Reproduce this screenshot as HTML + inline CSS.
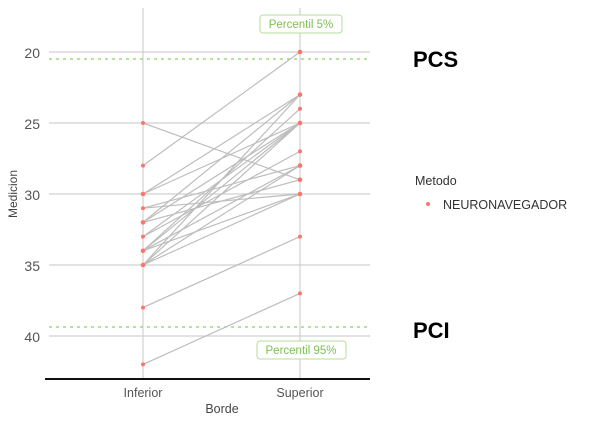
<!DOCTYPE html><html><head><style>body{margin:0;background:#fff}svg{display:block}</style></head><body>
<svg width="600" height="425" xmlns="http://www.w3.org/2000/svg" font-family="Liberation Sans, sans-serif">
<g stroke="#d0d0d0" stroke-width="1.2">
<line x1="49" x2="370" y1="52" y2="52"/><line x1="49" x2="370" y1="123" y2="123"/><line x1="49" x2="370" y1="194" y2="194"/><line x1="49" x2="370" y1="265" y2="265"/><line x1="49" x2="370" y1="336" y2="336"/>
<line x1="143" x2="143" y1="8" y2="378"/><line x1="300" x2="300" y1="8" y2="378"/>
</g>
<g stroke="#8fd06a" stroke-width="1.3" stroke-dasharray="3,4"><line x1="49" x2="370" y1="59" y2="59"/><line x1="49" x2="370" y1="327" y2="327"/></g>
<g stroke="#bdbdbd" stroke-width="1.2">
<line x1="143" x2="300" y1="123" y2="179.8"/>
<line x1="143" x2="300" y1="165.6" y2="52"/>
<line x1="143" x2="300" y1="194" y2="94.6"/>
<line x1="143" x2="300" y1="194" y2="123"/>
<line x1="143" x2="300" y1="208.2" y2="165.6"/>
<line x1="143" x2="300" y1="222.4" y2="123"/>
<line x1="143" x2="300" y1="222.4" y2="94.6"/>
<line x1="143" x2="300" y1="222.4" y2="179.8"/>
<line x1="143" x2="300" y1="236.6" y2="123"/>
<line x1="143" x2="300" y1="236.6" y2="151.4"/>
<line x1="143" x2="300" y1="250.8" y2="108.8"/>
<line x1="143" x2="300" y1="250.8" y2="165.6"/>
<line x1="143" x2="300" y1="250.8" y2="123"/>
<line x1="143" x2="300" y1="265" y2="194"/>
<line x1="143" x2="300" y1="265" y2="165.6"/>
<line x1="143" x2="300" y1="265" y2="123"/>
<line x1="143" x2="300" y1="265" y2="94.6"/>
<line x1="143" x2="300" y1="307.6" y2="236.6"/>
<line x1="143" x2="300" y1="364.4" y2="293.4"/>
<line x1="143" x2="300" y1="208.2" y2="194"/>
<line x1="143" x2="300" y1="250.8" y2="194"/>
</g>
<g fill="#f8766d">
<circle cx="143" cy="123" r="2"/><circle cx="143" cy="165.6" r="2"/><circle cx="143" cy="194" r="2.3"/><circle cx="143" cy="208.2" r="2"/><circle cx="143" cy="222.4" r="2.3"/><circle cx="143" cy="236.6" r="2"/><circle cx="143" cy="250.8" r="2.3"/><circle cx="143" cy="265" r="2.3"/><circle cx="143" cy="307.6" r="2"/><circle cx="143" cy="364.4" r="2"/>
<circle cx="300" cy="52" r="2.3"/><circle cx="300" cy="94.6" r="2.3"/><circle cx="300" cy="108.8" r="2"/><circle cx="300" cy="123" r="2.3"/><circle cx="300" cy="151.4" r="2"/><circle cx="300" cy="165.6" r="2.3"/><circle cx="300" cy="179.8" r="2.3"/><circle cx="300" cy="194" r="2.3"/><circle cx="300" cy="236.6" r="2"/><circle cx="300" cy="293.4" r="2"/>
</g>
<line x1="45" x2="370" y1="379" y2="379" stroke="#111" stroke-width="2"/>
<g font-size="14" fill="#555" text-anchor="end"><text x="40" y="58">20</text><text x="40" y="129">25</text><text x="40" y="200">30</text><text x="40" y="271">35</text><text x="40" y="342">40</text></g>
<text x="17" y="194" font-size="12" fill="#444" text-anchor="middle" transform="rotate(-90 17 194)">Medicion</text>
<g font-size="12.5" fill="#555" text-anchor="middle"><text x="143" y="397">Inferior</text><text x="300" y="397">Superior</text><text x="222" y="413" fill="#444">Borde</text></g>
<rect x="260" y="15" width="82" height="18" rx="3" fill="#fff" stroke="#b5dc9c"/><text x="301" y="28" font-size="11.5" fill="#7cbf4f" text-anchor="middle">Percentil 5%</text>
<rect x="257" y="341" width="89" height="18" rx="3" fill="#fff" stroke="#b5dc9c"/><text x="301" y="354" font-size="11.5" fill="#7cbf4f" text-anchor="middle">Percentil 95%</text>
<text x="413" y="67" font-size="22" font-weight="bold">PCS</text><text x="413" y="338" font-size="22" font-weight="bold">PCI</text>
<text x="415" y="185" font-size="12.5" fill="#333">Metodo</text>
<circle cx="428" cy="204" r="2" fill="#f8766d"/><text x="443" y="209" font-size="12.5" fill="#333">NEURONAVEGADOR</text>
</svg></body></html>
